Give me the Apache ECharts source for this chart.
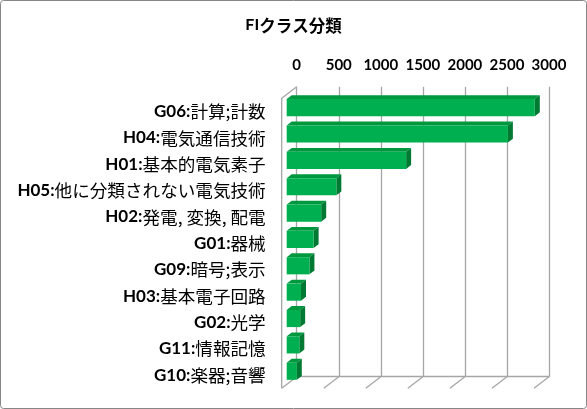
<!DOCTYPE html>
<html>
<head>
<meta charset="utf-8">
<script src="https://cdn.jsdelivr.net/npm/echarts@6/dist/echarts.min.js"></script>
<style>
html, body { margin: 0; padding: 0; background: #fff; }
#chart { width: 587px; height: 409px; }
</style>
</head>
<body>
<div id="chart"></div>
<script>
var categories = ['G06:計算;計数', 'H04:電気通信技術', 'H01:基本的電気素子', 'H05:他に分類されない電気技術',
    'H02:発電, 変換, 配電', 'G01:器械', 'G09:暗号;表示', 'H03:基本電子回路', 'G02:光学', 'G11:情報記憶', 'G10:楽器;音響'];
var counts = [2950, 2630, 1420, 590, 410, 320, 270, 170, 160, 150, 120];
var xTicks = [0, 500, 1000, 1500, 2000, 2500, 3000];

// depth of the 3d box: back wall sits this far from the front plane
var DX = 15, DY = -11.6;
var gridColor = '#a6a6a6';

var myChart = echarts.init(document.getElementById('chart'));

var barData = counts.map(function (v, i) { return [v, i]; });

function renderBar(params, api) {
    var i = api.value(1);
    var p0 = api.coord([0, i]);
    var p1 = api.coord([api.value(0), i]);
    var h = api.size([0, 1])[1] * 0.65;
    var fx = DX / 3, fy = DY / 3, d = DX / 3, e = DY / 3;
    var xa = p0[0] + fx, xb = p1[0] + fx;
    var yt = p0[1] + fy - h / 2, yb = p0[1] + fy + h / 2;
    return {
        type: 'group',
        children: [
            { type: 'polygon', shape: { points: [[xa, yt], [xb, yt], [xb + d, yt + e], [xa + d, yt + e]] },
              style: { fill: '#00983f' } },
            { type: 'polygon', shape: { points: [[xb, yt], [xb + d, yt + e], [xb + d, yb + e], [xb, yb]] },
              style: { fill: '#007a33' } },
            { type: 'rect', shape: { x: xa, y: yt, width: xb - xa, height: yb - yt },
              style: { fill: '#00b050' } }
        ]
    };
}

function renderFloor(params, api) {
    var cs = params.coordSys;
    var x = api.coord([api.value(0), 0])[0];
    var yb = cs.y + cs.height;
    var children = [
        { type: 'line', shape: { x1: x, y1: yb, x2: x - DX, y2: yb - DY },
          style: { stroke: gridColor, lineWidth: 1.3 } }
    ];
    if (params.dataIndex === 0) {
        children.push({ type: 'polyline',
            shape: { points: [[x, cs.y], [x - DX, cs.y - DY], [x - DX, yb - DY]] },
            style: { stroke: gridColor, lineWidth: 1.3, fill: null } });
    }
    return { type: 'group', children: children };
}

option = {
    backgroundColor: '#fff',
    title: {
        text: '{b|FI}{n|クラス分類}',
        left: 'center',
        top: 12,
        textStyle: {
            rich: {
                b: { fontFamily: 'Lato', fontWeight: 'bold', fontSize: 16, color: '#000' },
                n: { fontFamily: 'Noto Sans CJK JP', fontSize: 16.5, color: '#000' }
            }
        }
    },
    grid: [
        // back wall
        { left: 296.7, right: 38, top: 86.7, bottom: 32.3, outerBoundsMode: 'none', containLabel: false },
        // front plane
        { left: 281.7, right: 53, top: 98.3, bottom: 20.7, outerBoundsMode: 'none', containLabel: false }
    ],
    xAxis: [
        {
            gridIndex: 0,
            type: 'value',
            position: 'top',
            min: 0,
            max: 3000,
            interval: 500,
            axisLine: { show: true, lineStyle: { color: gridColor, width: 1.3 } },
            axisTick: { show: false },
            axisLabel: {
                margin: 14,
                color: '#000',
                fontFamily: 'Lato',
                fontWeight: 'bold',
                fontSize: 15,
                formatter: function (v) { return xTicks.indexOf(v) >= 0 ? String(v) : ''; }
            },
            splitLine: { show: true, lineStyle: { color: gridColor, width: 1.3 } }
        },
        {
            gridIndex: 1,
            type: 'value',
            min: 0,
            max: 3000,
            show: false
        }
    ],
    yAxis: [
        { gridIndex: 0, type: 'value', min: 0, max: 1, show: false },
        {
            gridIndex: 1,
            type: 'category',
            inverse: true,
            data: categories,
            axisLine: { show: false },
            axisTick: { show: false },
            splitLine: { show: false },
            axisLabel: {
                margin: 16,
                formatter: function (s) {
                    var k = s.indexOf(':');
                    return '{c|' + s.slice(0, k + 1) + '}{n|' + s.slice(k + 1) + '}';
                },
                rich: {
                    c: { fontFamily: 'Lato', fontWeight: 'bold', fontSize: 17, color: '#000' },
                    n: { fontFamily: 'Noto Sans CJK JP', fontSize: 17.6, color: '#000' }
                }
            }
        }
    ],
    series: [
        {
            name: 'floor',
            type: 'custom',
            xAxisIndex: 0,
            yAxisIndex: 0,
            silent: true,
            renderItem: renderFloor,
            data: xTicks.map(function (v) { return [v]; }),
            z: 1
        },
        {
            name: 'FI',
            type: 'custom',
            xAxisIndex: 1,
            yAxisIndex: 1,
            renderItem: renderBar,
            encode: { x: 0, y: 1 },
            data: barData,
            z: 5
        }
    ],
    graphic: [
        { type: 'rect', shape: { x: 0.5, y: 0.5, width: 586, height: 408, r: 3 },
          style: { fill: null, stroke: '#868686', lineWidth: 1 }, z: 100 }
    ]
};
myChart.setOption(option);
</script>
</body>
</html>
